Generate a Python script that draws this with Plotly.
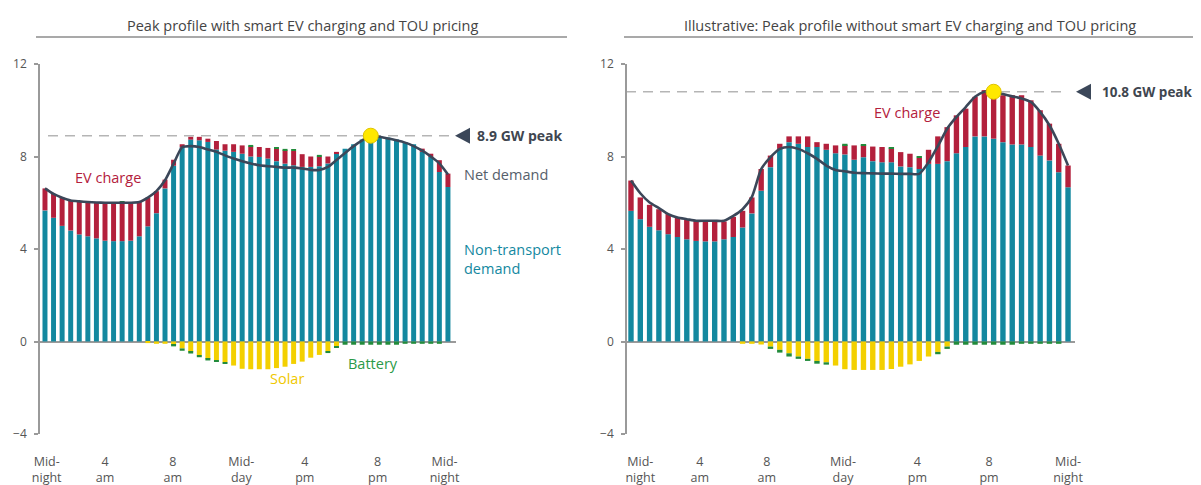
import plotly.graph_objects as go

# ---------------- data ----------------
half_hours = list(range(48))
tick_text = ["Mid-<br>night", "4<br>am", "8<br>am", "Mid-<br>day", "4<br>pm", "8<br>pm", "Mid-<br>night"]
y_ticks = [-4, 0, 4, 8, 12]

# Left: with smart EV charging and TOU pricing
nontransport_L = [5.67, 5.35, 5.0, 4.8, 4.63, 4.55, 4.46, 4.36, 4.34, 4.34, 4.36, 4.55, 4.98, 5.55, 6.62, 7.6,
                  8.4, 8.73, 8.7, 8.63, 8.3, 8.25, 8.2, 8.12, 8.0, 7.98, 7.91, 7.8, 7.69, 7.62, 7.55, 7.55,
                  7.58, 7.7, 8.15, 8.34, 8.53, 8.73, 8.92, 8.87, 8.82, 8.73, 8.63, 8.53, 8.2, 7.98, 7.33, 6.68]
ev_L = [0.95, 1.03, 1.22, 1.30, 1.43, 1.48, 1.55, 1.64, 1.66, 1.66, 1.64, 1.48, 1.24, 0.95, 0.38, 0.26,
        0.13, 0.12, 0.15, 0.14, 0.37, 0.28, 0.33, 0.36, 0.44, 0.43, 0.46, 0.54, 0.58, 0.62, 0.55, 0.45,
        0.42, 0.30, 0.05, 0, 0, 0, 0, 0, 0, 0, 0, 0, 0.14, 0.14, 0.51, 0.58]
solar_L = [0, 0, 0, 0, 0, 0, 0, 0, 0, 0, 0, 0, -0.07, -0.1, -0.1, -0.15,
           -0.3, -0.45, -0.6, -0.75, -0.8, -0.9, -1.04, -1.18, -1.2, -1.2, -1.2, -1.15, -1.09, -0.97, -0.87, -0.7,
           -0.58, -0.43, -0.2, 0, 0, 0, 0, 0, 0, 0, 0, 0, 0, 0, 0, 0]
battery_L = [0, 0, 0, 0, 0, 0, 0, 0, 0, 0.05, 0, 0, 0, 0, 0, -0.06,
             -0.1, -0.07, -0.08, -0.07, -0.08, -0.07, 0, 0, 0.06, 0, 0, 0.06, 0.06, 0.07, 0, 0,
             0.07, -0.07, -0.07, -0.14, -0.14, -0.14, -0.14, -0.14, -0.14, -0.14, -0.1, -0.1, -0.1, -0.1, -0.1, 0]
net_L = [6.62, 6.38, 6.22, 6.1, 6.06, 6.03, 6.01, 6.0, 6.0, 6.0, 6.0, 6.03, 6.22, 6.5, 6.97, 7.69,
         8.4, 8.45, 8.41, 8.3, 8.2, 8.05, 7.91, 7.8, 7.7, 7.62, 7.58, 7.55, 7.52, 7.52, 7.48, 7.42,
         7.42, 7.55, 7.85, 8.15, 8.45, 8.7, 8.9, 8.85, 8.78, 8.7, 8.6, 8.45, 8.25, 8.0, 7.7, 7.22]
peak_idx_L, peak_L = 38, 8.9

# Right: illustrative, without smart EV charging and TOU pricing
nontransport_R = [5.65, 5.29, 4.96, 4.81, 4.64, 4.52, 4.42, 4.35, 4.33, 4.33, 4.42, 4.52, 4.93, 5.54, 6.52, 7.54,
                  8.33, 8.62, 8.55, 8.41, 8.41, 8.29, 8.14, 8.09, 7.86, 7.97, 7.8, 7.75, 7.75, 7.57, 7.54, 7.46,
                  7.68, 7.68, 7.8, 8.14, 8.41, 8.87, 8.87, 8.77, 8.62, 8.52, 8.52, 8.41, 8.04, 7.83, 7.32, 6.67]
ev_R = [1.31, 0.94, 0.95, 0.91, 0.87, 0.84, 0.87, 0.87, 0.89, 0.92, 0.77, 0.87, 0.72, 0.69, 0.94, 0.50,
        0.22, 0.25, 0.32, 0.46, 0.21, 0.26, 0.34, 0.40, 0.62, 0.51, 0.63, 0.66, 0.60, 0.62, 0.58, 0.48,
        0.61, 1.19, 1.47, 1.64, 1.66, 1.71, 2.0, 2.07, 2.03, 2.13, 2.13, 2.02, 1.96, 1.59, 1.23, 0.94]
solar_R = [0, 0, 0, 0, 0, 0, 0, 0, 0, 0, 0, 0, -0.1, -0.1, -0.13, -0.22,
           -0.36, -0.51, -0.65, -0.75, -0.84, -0.9, -1.04, -1.2, -1.23, -1.23, -1.23, -1.23, -1.19, -1.09, -0.99, -0.84,
           -0.65, -0.45, -0.22, 0, 0, 0, 0, 0, 0, 0, 0, 0, 0, 0, 0, 0]
battery_R = [0, 0, 0, 0, 0, 0, 0, 0, 0, 0, 0, 0, 0, 0, 0, -0.1,
             -0.12, -0.14, -0.1, -0.09, -0.12, -0.1, 0, 0.06, 0, 0.05, 0, 0, 0.06, 0, 0, 0.05,
             0, -0.1, -0.1, -0.14, -0.14, -0.14, -0.14, -0.14, -0.14, -0.14, -0.1, -0.1, -0.1, -0.1, -0.1, 0]
net_R = [6.96, 6.41, 6.01, 5.77, 5.51, 5.36, 5.29, 5.22, 5.22, 5.22, 5.22, 5.43, 5.72, 6.25, 7.45, 7.97,
         8.33, 8.41, 8.33, 8.14, 7.9, 7.61, 7.42, 7.36, 7.3, 7.28, 7.27, 7.26, 7.26, 7.25, 7.25, 7.25,
         7.75, 8.45, 9.2, 9.71, 10.14, 10.58, 10.8, 10.8, 10.7, 10.6, 10.51, 10.36, 9.93, 9.35, 8.55, 7.61]
peak_idx_R, peak_R = 39, 10.8

# ---------------- styling ----------------
PAGE_W, PAGE_H = 1201, 485
OFF = 8  # default page body margin of the html page
W, H = PAGE_W - OFF, PAGE_H - OFF
FONT = "Open Sans"
TEAL = "#13889f"
RED = "#b3203c"
YELLOW = "#f3d000"
GREEN = "#228b3b"
NAVY = "#3b4759"
GREY = "#9a9a9a"
TXT = "#555555"

Y_TOP_PX, Y_BOT_PX = 64, 434  # page pixel rows of 12 and -4


def px(p):
    return (p - OFF) / W


def py(p):
    return 1 - (p - OFF) / H


def ypx_of(v):
    return Y_BOT_PX - (v + 4) * (Y_BOT_PX - Y_TOP_PX) / 16


fig = go.Figure()

panels = [
    ("x", "y", nontransport_L, ev_L, solar_L, battery_L, net_L, peak_idx_L, peak_L),
    ("x2", "y2", nontransport_R, ev_R, solar_R, battery_R, net_R, peak_idx_R, peak_R),
]
for xa, ya, nt, ev, sol, bat, net, pk_i, pk_v in panels:
    for vals, col, name in [(nt, TEAL, "Non-transport demand"), (ev, RED, "EV charge"),
                            (sol, YELLOW, "Solar"), (bat, GREEN, "Battery")]:
        fig.add_trace(go.Bar(x=half_hours, y=vals, marker=dict(color=col, line=dict(width=0)),
                             xaxis=xa, yaxis=ya, name=name, showlegend=False))
    fig.add_trace(go.Scatter(x=half_hours, y=net, mode="lines", xaxis=xa, yaxis=ya,
                             line=dict(color=NAVY, width=2.6, shape="spline", smoothing=0.6),
                             showlegend=False, name="Net demand"))
    fig.add_trace(go.Scatter(x=[pk_i], y=[pk_v], mode="markers", xaxis=xa, yaxis=ya, cliponaxis=False,
                             marker=dict(size=15, color="#ffe800", line=dict(color="#e0c400", width=1)),
                             showlegend=False))

common_x = dict(showgrid=False, zeroline=False, showline=False, ticks="", automargin=False,
                tickfont=dict(family=FONT, size=12.5, color=TXT), ticktext=tick_text, ticklabelstandoff=18)
common_y = dict(range=[-4, 12], tickvals=y_ticks, showgrid=False, zeroline=True, zerolinecolor=GREY,
                zerolinewidth=1.5, showline=True, linecolor=GREY, linewidth=1.5, ticks="outside",
                ticklen=4, tickcolor=GREY, tickwidth=1.5, tickfont=dict(family=FONT, size=12, color=TXT),
                domain=[py(Y_BOT_PX), py(Y_TOP_PX)], ticklabelstandoff=5, automargin=False)

fig.update_layout(
    width=W, height=H, margin=dict(l=0, r=0, t=0, b=0, autoexpand=False),
    paper_bgcolor="white", plot_bgcolor="white",
    barmode="relative", bargap=0.42,
    font=dict(family=FONT, color=TXT),
    xaxis=dict(domain=[px(40), px(456)], range=[-0.58, 47.94], anchor="y",
               tickvals=[0.2, 7.0, 14.9, 22.9, 30.3, 38.8, 46.6], **common_x),
    yaxis=dict(anchor="x", **common_y),
    xaxis2=dict(domain=[px(627), px(1075)], range=[-0.43, 47.75], anchor="y2",
                tickvals=[1.0, 7.4, 14.6, 22.8, 30.8, 38.5, 47.0], **common_x),
    yaxis2=dict(anchor="x2", **common_y),
)

shapes = []
annotations = []
# titles + underlines
for cx, x0, x1, text in [(302, 36, 567, "Peak profile with smart EV charging and TOU pricing"),
                         (910, 624, 1196, "Illustrative: Peak profile without smart EV charging and TOU pricing")]:
    annotations.append(dict(text=text, x=px(cx), y=py(26), xref="paper", yref="paper", showarrow=False,
                            xanchor="center", yanchor="middle", font=dict(family=FONT, size=14.5, color="#444")))
    shapes.append(dict(type="line", xref="paper", yref="paper", x0=px(x0), x1=px(x1), y0=py(37), y1=py(37),
                       line=dict(color="#8c8c8c", width=1.5)))

# peak dashed lines, triangles and labels
for pk_v, dx0, dx1, tri_x, txt_x, fsize, label in [(peak_L, 48, 449, 455, 475, 14, f"{peak_L} GW peak"),
                                                    (peak_R, 626, 1064, 1076, 1100, 13.5, f"{peak_R} GW peak")]:
    yp = ypx_of(pk_v)
    shapes.append(dict(type="line", xref="paper", yref="paper", x0=px(dx0), x1=px(dx1), y0=py(yp), y1=py(yp),
                       line=dict(color="#b5b5b5", width=1.5, dash="10px,7px"), layer="below"))
    shapes.append(dict(type="path", xref="paper", yref="paper",
                       path=f"M {px(tri_x)},{py(yp)} L {px(tri_x + 15)},{py(yp - 8)} L {px(tri_x + 15)},{py(yp + 8)} Z",
                       fillcolor=NAVY, line=dict(width=0)))
    annotations.append(dict(text=f"<b>{label}</b>", x=px(txt_x), y=py(yp), xref="paper", yref="paper",
                            showarrow=False, xanchor="left", yanchor="middle",
                            font=dict(family=FONT, size=fsize, color="#3f4650")))

# series labels
for text, cx, cy, col, anchor in [("EV charge", 108, 177, RED, "center"),
                                  ("Net demand", 462, 174, "#56606b", "left"),
                                  ("Non-transport<br>demand", 462, 259, TEAL, "left"),
                                  ("Solar", 287, 378, "#f0c800", "center"),
                                  ("Battery", 373, 363, "#2a9a48", "center"),
                                  ("EV charge", 907, 113, RED, "center")]:
    annotations.append(dict(text=text, x=px(cx), y=py(cy), xref="paper", yref="paper", showarrow=False,
                            xanchor=anchor, yanchor="middle", align="left",
                            font=dict(family=FONT, size=14.5, color=col)))

fig.update_layout(shapes=shapes, annotations=annotations)
fig.write_html("out.html")
